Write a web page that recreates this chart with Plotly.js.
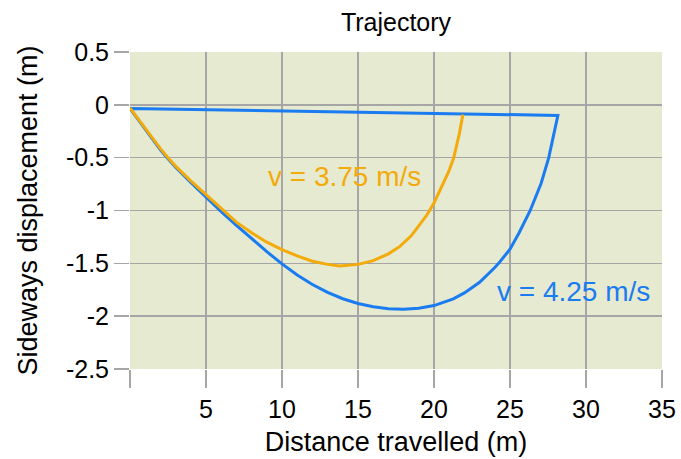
<!DOCTYPE html>
<html>
<head>
<meta charset="utf-8">
<script src="https://cdn.plot.ly/plotly-3.0.1.min.js"></script>
<style>html,body{margin:0;padding:0;background:#fff;}#chart{width:681px;height:459px;}</style>
</head>
<body>
<div id="chart"></div>
<script>
// Trajectory for v = 4.25 m/s (closing line back to start included)
const blueX = [0, 1, 2, 2.5, 3, 4, 5, 6, 7, 8, 9, 10, 11, 12, 13, 14, 15, 16, 17, 18, 19, 20, 21, 21.27, 22, 23, 24, 24.25, 25, 25.6, 26.33, 27.05, 27.55, 27.92, 28.15, 0];
const blueY = [-0.035, -0.23, -0.425, -0.51, -0.59, -0.735, -0.875, -1.01, -1.14, -1.265, -1.39, -1.505, -1.61, -1.70, -1.775, -1.835, -1.88, -1.91, -1.93, -1.935, -1.925, -1.90, -1.855, -1.836, -1.78, -1.68, -1.54, -1.5, -1.367, -1.21, -1.0, -0.742, -0.5, -0.272, -0.10, -0.035];
// Trajectory for v = 3.75 m/s
const orangeX = [0, 1, 2, 2.5, 3, 4, 5, 6, 7, 8, 9, 10, 11, 12, 13, 13.8, 15, 16, 17, 17.76, 18.5, 18.97, 19.5, 20, 20.6, 21, 21.3, 21.67, 21.9];
const orangeY = [-0.03, -0.225, -0.415, -0.5, -0.58, -0.72, -0.85, -0.985, -1.11, -1.21, -1.3, -1.37, -1.43, -1.48, -1.51, -1.525, -1.51, -1.475, -1.41, -1.34, -1.24, -1.15, -1.05, -0.93, -0.742, -0.62, -0.5, -0.272, -0.091];

const xTicks = [0, 5, 10, 15, 20, 25, 30, 35];
const xTickText = ['', '5', '10', '15', '20', '25', '30', '35'];
const yTicks = [0.5, 0, -0.5, -1, -1.5, -2, -2.5];
const yTickText = ['0.5', '0', '-0.5', '-1', '-1.5', '-2', '-2.5'];

const labels = [
  {text: 'v = 3.75 m/s', x: 14.1, y: -0.675, color: '#F3AA0B'},
  {text: 'v = 4.25 m/s', x: 29.2, y: -1.77, color: '#1A7CF0'}
];

const FONT = 'Liberation Sans, Arial, Helvetica, sans-serif';
const GRID = '#A6A6A6';

const traces = [
  {x: blueX, y: blueY, type: 'scatter', mode: 'lines', line: {color: '#1A7CF0', width: 3}, hoverinfo: 'skip'},
  {x: orangeX, y: orangeY, type: 'scatter', mode: 'lines', line: {color: '#F3AA0B', width: 3}, hoverinfo: 'skip'}
];

const layout = {
  width: 681, height: 459,
  margin: {l: 130, r: 19, t: 52, b: 90, pad: 0},
  paper_bgcolor: '#ffffff',
  plot_bgcolor: '#E6EAD1',
  showlegend: false,
  title: {text: 'Trajectory', font: {family: FONT, size: 25, color: '#000'}, x: 0.5, xanchor: 'center', xref: 'paper', y: 0.952, yanchor: 'middle'},
  xaxis: {
    range: [0, 35], tickvals: xTicks, ticktext: xTickText,
    showgrid: true, gridcolor: GRID, gridwidth: 1.5, zeroline: false,
    showline: false, ticks: 'outside', ticklen: 18, tickwidth: 1.5, tickcolor: GRID,
    tickfont: {family: FONT, size: 25, color: '#000'},
    title: {text: 'Distance travelled (m)', font: {family: FONT, size: 27, color: '#000'}, standoff: 10}
  },
  yaxis: {
    range: [-2.5, 0.5], tickvals: yTicks, ticktext: yTickText,
    showgrid: true, gridcolor: GRID, gridwidth: 1.5, zeroline: false,
    showline: false, ticks: 'outside', ticklen: 15, tickwidth: 1.5, tickcolor: GRID,
    tickfont: {family: FONT, size: 25, color: '#000'},
    title: {text: 'Sideways displacement (m)', font: {family: FONT, size: 27, color: '#000'}, standoff: 20}
  },
  annotations: labels.map(l => ({
    text: l.text, x: l.x, y: l.y, xref: 'x', yref: 'y', showarrow: false,
    font: {family: FONT, size: 28, color: l.color}, xanchor: 'center', yanchor: 'middle'
  }))
};

Plotly.newPlot('chart', traces, layout, {displayModeBar: false, staticPlot: true});
</script>
</body>
</html>
